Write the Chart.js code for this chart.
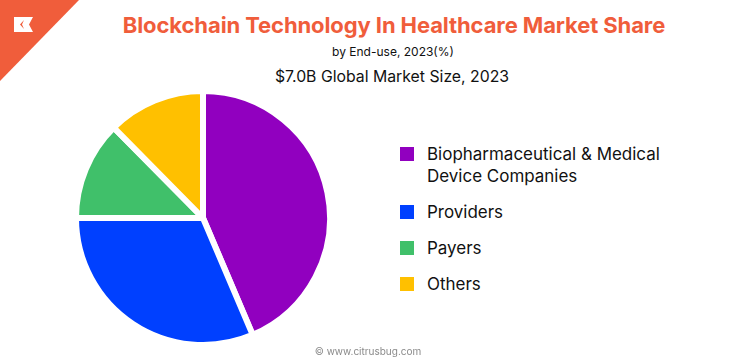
<!DOCTYPE html>
<html>
<head>
<meta charset="utf-8">
<script src="https://cdn.jsdelivr.net/npm/chart.js@4.4.0/dist/chart.umd.min.js"></script>
<style>
    html, body { margin: 0; padding: 0; background: #fff; }
    body { width: 736px; height: 364px; position: relative; overflow: hidden; font-family: "Inter", "DejaVu Sans", sans-serif; color: #111; }
    #corner { position: absolute; left: 0; top: 0; }
    #titulo { position: absolute; left: 0; width: 788px; top: 12px; text-align: center; font-size: 22px; font-weight: 700; color: #f05d3b; letter-spacing: -0.1px; }
    #sub1 { position: absolute; left: 0; width: 786px; top: 44px; text-align: center; font-size: 12px; }
    #sub2 { position: absolute; left: 0; width: 784px; top: 67px; text-align: center; font-size: 15.8px; }
    #pieWrap { position: absolute; left: 73px; top: 88px; width: 260px; height: 260px; }
    #leyenda { position: absolute; left: 400px; top: 143px; }
    .item { position: relative; padding-left: 27px; font-size: 16px; line-height: 22px; margin-bottom: 14px; white-space: nowrap; }
    .item span.caja { position: absolute; left: 0; top: 4px; width: 14px; height: 14px; }
    #pie { position: absolute; left: 0; width: 736px; top: 345px; text-align: center; font-size: 10px; color: #8a8a8a; }
</style>
</head>
<body>
<svg id="corner" width="80" height="82">
    <polygon points="0,0 79,0 0,81" fill="#f05d3b"/>
    <path d="M14,17 L33,17 L29,24.5 L33,32 L14,32 Z" fill="#fff"/>
    <path d="M24,20 L20,24.5 L24,29 L22,24.5 Z" fill="#f05d3b"/>
</svg>
<div id="titulo">Blockchain Technology In Healthcare Market Share</div>
<div id="sub1">by End-use, 2023(%)</div>
<div id="sub2">$7.0B Global Market Size, 2023</div>
<div id="pieWrap"><canvas id="grafico" width="260" height="260"></canvas></div>
<div id="leyenda"></div>
<div id="pie">© www.citrusbug.com</div>

<script>
const categorias = [
    ['Biopharmaceutical & Medical', 'Device Companies'],
    ['Providers'],
    ['Payers'],
    ['Others']
];
const valores = [43.6, 31.4, 12.6, 12.4];
const colores = ['#9100bf', '#0040ff', '#40c06a', '#ffc000'];

// Tamaño de letra de la leyenda: la primera línea mide unos 233px
const medidor = document.createElement('canvas').getContext('2d');
medidor.font = '16px Inter';
const anchoBase = medidor.measureText(categorias[0][0]).width;
const tamLetra = Math.min(17, Math.max(14, 16 * 233 / anchoBase));

// Leyenda en HTML
const leyenda = document.getElementById('leyenda');
categorias.forEach((cat, i) => {
    const item = document.createElement('div');
    item.className = 'item';
    item.style.fontSize = tamLetra + 'px';
    item.innerHTML = `<span class="caja" style="background:${colores[i]}"></span>${cat.join('<br>')}`;
    leyenda.appendChild(item);
});

const ctx = document.getElementById('grafico').getContext('2d');
new Chart(ctx, {
    type: 'pie',
    data: {
        labels: categorias.map(c => c.join(' ')),
        datasets: [{
            data: valores,
            backgroundColor: colores,
            borderColor: '#ffffff',
            borderWidth: 6
        }]
    },
    options: {
        responsive: false,
        animation: false,
        layout: { padding: 0 },
        plugins: {
            legend: { display: false },
            tooltip: { enabled: false }
        }
    }
});
</script>
</body>
</html>
